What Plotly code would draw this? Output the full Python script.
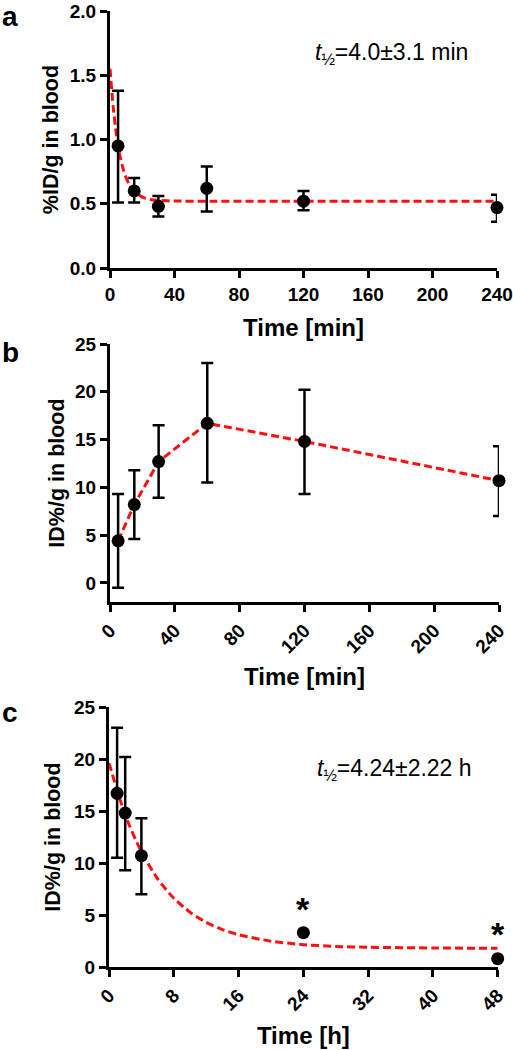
import plotly.graph_objects as go

# ---------------- data ----------------
# Panel a
a_time = [5, 15, 30, 60, 120, 240]
a_mean = [0.95, 0.60, 0.48, 0.62, 0.52, 0.47]
a_err_up = [0.43, 0.10, 0.08, 0.17, 0.08, 0.10]
a_err_dn = [0.44, 0.09, 0.08, 0.18, 0.07, 0.11]
a_fit_t = [0, 2, 4, 6, 8, 10, 12, 15, 20, 25, 30, 40, 60, 120, 240]
a_fit_y = [1.55, 1.25, 1.035, 0.884, 0.778, 0.702, 0.649, 0.597, 0.552, 0.533, 0.526, 0.521, 0.52, 0.52, 0.52]

# Panel b
b_time = [5, 15, 30, 60, 120, 240]
b_mean = [4.4, 8.2, 12.7, 16.7, 14.8, 10.7]
b_err_up = [4.9, 3.6, 3.8, 6.3, 5.4, 3.6]
b_err_dn = [4.9, 3.6, 3.8, 6.2, 5.5, 3.7]

# Panel c
c_time = [1, 2, 4, 24, 48]
c_mean = [16.7, 14.8, 10.7, 3.3, 0.8]
c_err_up = [6.3, 5.4, 3.6, 0, 0]
c_err_dn = [6.2, 5.5, 3.7, 0, 0]
c_fit_t = [0, 2, 4, 6, 8, 10, 12, 14, 16, 20, 24, 28, 32, 40, 48]
c_fit_y = [19.6, 14.6, 11.06, 8.48, 6.61, 5.27, 4.30, 3.60, 3.10, 2.48, 2.15, 1.98, 1.90, 1.83, 1.80]
c_star_t = [24, 48]
c_star_y = [5.6, 3.2]

a_ticks_x = [0, 40, 80, 120, 160, 200, 240]
a_ticks_y = [0.0, 0.5, 1.0, 1.5, 2.0]
b_ticks_y = [0, 5, 10, 15, 20, 25]
c_ticks_x = [0, 8, 16, 24, 32, 40, 48]
c_ticks_y = [0, 5, 10, 15, 20, 25]

W, H = 513, 1050
FONT = "Liberation Sans, Arial, Helvetica, sans-serif"
RED = "#ff1010"
DASH = "8px,4px"

fig = go.Figure()

def pts(x, y, up, dn, xa, ya):
    fig.add_trace(go.Scatter(
        x=x, y=y, mode="markers", xaxis=xa, yaxis=ya,
        marker=dict(color="black", size=13),
        error_y=dict(type="data", symmetric=False, array=up, arrayminus=dn,
                     color="black", thickness=2.5, width=6),
        cliponaxis=False, showlegend=False))

def line(x, y, xa, ya, shape="spline"):
    fig.add_trace(go.Scatter(
        x=x, y=y, mode="lines", xaxis=xa, yaxis=ya,
        line=dict(color=RED, width=3, dash=DASH, shape=shape, smoothing=0.6),
        cliponaxis=False, showlegend=False))

line(a_fit_t, a_fit_y, "x", "y")
pts(a_time, a_mean, a_err_up, a_err_dn, "x", "y")
line(b_time, b_mean, "x2", "y2", shape="linear")
pts(b_time, b_mean, b_err_up, b_err_dn, "x2", "y2")
line(c_fit_t, c_fit_y, "x3", "y3")
pts(c_time, c_mean, c_err_up, c_err_dn, "x3", "y3")

def dom_x(l, r):
    return [l / W, r / W]

def dom_y(top, bot):
    return [1 - bot / H, 1 - top / H]

tickfont = dict(family=FONT, size=19, color="black", weight="bold")
xtitlefont = dict(family=FONT, size=24, color="black", weight="bold")
ytitlefont = dict(family=FONT, size=21.5, color="black", weight="bold")

common = dict(showline=True, linecolor="black", linewidth=3, ticks="outside",
              ticklen=7, tickwidth=3, tickcolor="black", showgrid=False,
              zeroline=False, tickfont=tickfont, mirror=False, automargin=False,
              ticklabeloverflow="allow")

fig.update_layout(
    template="none",
    width=W, height=H, margin=dict(l=0, r=0, t=0, b=0),
    paper_bgcolor="white", plot_bgcolor="white",
    font=dict(family=FONT, color="black"),
    xaxis=dict(domain=dom_x(110, 497), range=[0, 240], tickvals=a_ticks_x,
               anchor="y", title=dict(text="Time [min]", font=xtitlefont, standoff=16), **common),
    yaxis=dict(domain=dom_y(11, 268), range=[0, 2.0], tickvals=a_ticks_y, tickformat=".1f",
               anchor="x", title=dict(text="%ID/g in blood", font=ytitlefont, standoff=6), **common),
    xaxis2=dict(domain=dom_x(110, 499), range=[0, 240], tickvals=a_ticks_x, tickangle=-45,
                anchor="y2", title=dict(text="Time [min]", font=xtitlefont, standoff=12), **common),
    yaxis2=dict(domain=dom_y(344, 602), range=[-2, 25], tickvals=b_ticks_y,
                anchor="x2", title=dict(text="ID%/g in blood", font=ytitlefont, standoff=5), **common),
    xaxis3=dict(domain=dom_x(109, 497.7), range=[0, 48], tickvals=c_ticks_x, tickangle=-45,
                anchor="y3", title=dict(text="Time [h]", font=xtitlefont, standoff=14), **common),
    yaxis3=dict(domain=dom_y(707, 967), range=[0, 25], tickvals=c_ticks_y,
                anchor="x3", title=dict(text="ID%/g in blood", font=ytitlefont, standoff=8), **common),
)

letter_font = dict(family=FONT, size=28, color="black", weight="bold")
for txt, ytop in [("a", 0), ("b", 336), ("c", 696)]:
    fig.add_annotation(text=txt, x=1 / W, y=1 - ytop / H, xref="paper", yref="paper",
                       xanchor="left", yanchor="top", showarrow=False, font=letter_font,
                       borderpad=0)

ann_font = dict(family=FONT, size=23, color="black")
fig.add_annotation(text="<i>t</i><sub>½</sub>=4.0±3.1 min", x=313 / W, y=1 - 54 / H,
                   xref="paper", yref="paper", xanchor="left", yanchor="middle",
                   showarrow=False, font=ann_font)
fig.add_annotation(text="<i>t</i><sub>½</sub>=4.24±2.22 h", x=315 / W, y=1 - 769 / H,
                   xref="paper", yref="paper", xanchor="left", yanchor="middle",
                   showarrow=False, font=ann_font)

for t, yv in zip(c_star_t, c_star_y):
    fig.add_annotation(text="*", x=t, y=yv, xref="x3", yref="y3", showarrow=False,
                       xanchor="center", yanchor="middle",
                       font=dict(family=FONT, size=34, color="black", weight="bold"))

fig.write_html("out.html", config={"displayModeBar": False},
               post_script="document.body.style.margin='0';document.body.style.overflow='hidden';")
